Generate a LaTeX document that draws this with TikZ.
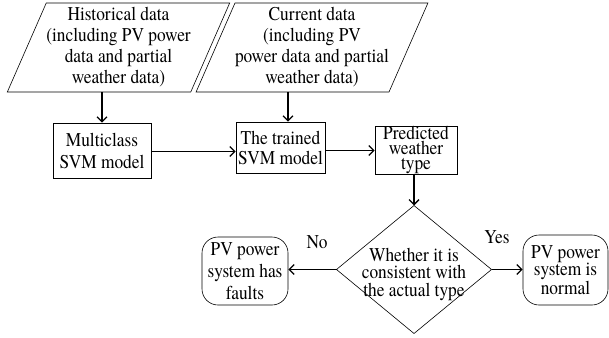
\documentclass[tikz,border=0pt]{standalone}
\usepackage{fontspec}
\newfontfamily\tms{TeX Gyre Termes}[FakeStretch=0.89]
\usetikzlibrary{shapes.geometric,arrows.meta}
\tikzset{
  base/.style={draw, line width=0.6pt, inner sep=0pt, align=center, font=\tms\fontsize{19.5}{21}\selectfont},
  para/.style={base, trapezium, trapezium left angle=64, trapezium right angle=116, trapezium stretches=true, minimum height=89pt},
  rect/.style={base, rectangle},
  dec/.style={draw, line width=0.6pt, inner sep=0pt, outer sep=0pt, diamond},
  term/.style={base, rectangle, rounded corners=16pt},
  conn/.style={line width=1.3pt, -{Straight Barb[length=5pt,width=10pt,line width=1.3pt]}},
  lbl/.style={font=\tms\fontsize{19.5}{21}\selectfont, inner sep=0pt, align=center}
}
\begin{document}
\begin{tikzpicture}[x=1pt,y=-1pt]
\useasboundingbox (0,0) rectangle (609,337);
\node[para, minimum width=223pt] (p1) at (118.5,47.5) {Historical data\\(including PV power\\data and partial\\weather data)};
\node[para, minimum width=210pt] (p2) at (312,47.5) {Current data\\(including PV\\power data and partial\\weather data)};
\node[rect, minimum width=98pt, minimum height=55pt, font=\tms\fontsize{19.5}{22}\selectfont] (m) at (102,150.5) {Multiclass\\SVM model};
\node[rect, minimum width=89pt, minimum height=51pt, font=\tms\fontsize{19.5}{20}\selectfont] (t) at (280.5,147.5) {The trained\\SVM model};
\node[rect, minimum width=82pt, minimum height=48pt, font=\tms\fontsize{19.5}{15}\selectfont] (p) at (416,150) {Predicted\\weather\\type};
\node[dec, minimum width=155pt, minimum height=128pt] (d) at (414,269.5) {};
\node[lbl, font=\tms\fontsize{19.5}{17.5}\selectfont] (dt) at (414,274) {Whether it is\\consistent with\\the actual type};
\node[term, minimum width=86pt, minimum height=68pt, font=\tms\fontsize{19.5}{22}\selectfont] (f) at (245,271) {PV power\\system has\\faults};
\node[term, minimum width=85pt, minimum height=70pt, font=\tms\fontsize{19.5}{16}\selectfont] (n) at (565.5,270) {PV power\\system is\\normal};
\node[lbl] (no) at (317,242) {No};
\node[lbl] (yes) at (497,237) {Yes};
\draw[conn] (m.north |- p1.south) -- (m.north);
\draw[conn] ([xshift=7.5pt]t.north |- p2.south) -- ([xshift=7.5pt]t.north);
\draw[conn] ([yshift=-1pt]m.east) -- ([yshift=-1pt]m.east -| t.west);
\draw[conn] ([yshift=-3pt]t.east) -- ([yshift=-3pt]t.east -| p.west);
\draw[conn] (p.south -| d.north) -- (d.north);
\draw[conn] (d.west) -- (d.west -| f.east);
\draw[conn] (d.east) -- (d.east -| n.west);
\end{tikzpicture}
\end{document}
